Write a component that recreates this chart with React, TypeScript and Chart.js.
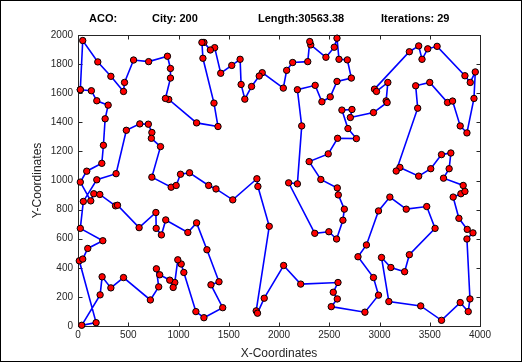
import React, { useEffect, useRef } from 'react';
import { Chart, registerables } from 'chart.js';

Chart.register(...registerables);

// Tour order of the 199 cities (x, y)
const cityX = [
  23, 133, 187, 300, 270, 253, 237, 87, 23, 127,
  157, 217, 373, 393, 608, 775, 778, 830, 873, 1093,
  1180, 1283, 1403, 1323, 1440, 1253, 1173, 1053, 1027, 993,
  963, 947, 913, 813, 780, 803, 720, 453, 327, 240,
  220, 37, 180, 13, 47, 97, 247, 23, 53, 187,
  379, 481, 615, 700, 735, 730, 821, 735, 927, 977,
  1020, 1110, 1300, 1373, 1540, 1780, 1790, 1903, 1773, 1786,
  1853, 2046, 2216, 2587, 2540, 2580, 2520, 2855, 2990, 2940,
  2786, 2870, 2990, 3103, 3266, 3470, 3553, 3297, 3250, 3113,
  3020, 3093, 3410, 3617, 3803, 3883, 3900, 3870, 3930, 3873,
  3790, 3733, 3810, 3850, 3833, 3637, 3693, 3710, 3617, 3510,
  3390, 3203, 3166, 3380, 3360, 3500, 3677, 3727, 3803, 3870,
  3940, 3953, 3903, 3850, 3573, 3480, 3423, 3390, 3297, 2950,
  2970, 3083, 3066, 3076, 2940, 2710, 2726, 2626, 2686, 2770,
  2583, 2490, 2300, 2416, 2580, 2590, 2650, 2636, 2573, 2496,
  2356, 2096, 2183, 2226, 2183, 2360, 2427, 2510, 2577, 2720,
  2680, 2597, 2577, 2550, 2467, 2316, 2306, 2286, 2136, 2076,
  2043, 1833, 1803, 1727, 1660, 1623, 1613, 1530, 1420, 1360,
  1317, 1253, 1233, 1243, 1353, 1393, 1180, 903, 870, 920,
  920, 890, 703, 553, 463, 453, 327, 197, 47,
];
const cityY = [
  1624, 1617, 1548, 1518, 1424, 1242, 1118, 1064, 989, 860,
  909, 904, 826, 830, 676, 780, 671, 626, 729, 643,
  709, 524, 304, 283, 126, 57, 99, 368, 426, 455,
  299, 265, 315, 352, 393, 269, 179, 333, 262, 338,
  214, 5, 23, 448, 460, 533, 586, 671, 856, 1005,
  1047, 1345, 1389, 1387, 1330, 1290, 1233, 1023, 954, 966,
  1043, 1053, 966, 942, 867, 1012, 959, 685, 104, 88,
  191, 416, 288, 299, 232, 186, 133, 95, 212, 333,
  476, 557, 791, 886, 803, 821, 671, 490, 373, 402,
  471, 168, 138, 39, 161, 99, 186, 598, 640, 664,
  740, 886, 909, 925, 966, 1016, 1081, 1189, 1178, 1081,
  1030, 1090, 1065, 1497, 1651, 1674, 1536, 1546, 1375, 1327,
  1564, 1746, 1674, 1720, 1922, 1905, 1833, 1925, 1885, 1628,
  1612, 1674, 1547, 1536, 1467, 1433, 1488, 1484, 1357, 1288,
  1290, 1183, 1130, 1007, 949, 901, 803, 727, 598, 648,
  637, 984, 977, 1375, 1624, 1654, 1541, 1575, 1681, 1704,
  1829, 1833, 1978, 1916, 1847, 1932, 1955, 1817, 1811, 1757,
  1635, 1741, 1718, 1646, 1559, 1660, 1833, 1791, 1737, 1913,
  1897, 1949, 1949, 1840, 1532, 1371, 1396, 1557, 1564, 1704,
  1770, 1854, 1817, 1828, 1674, 1612, 1716, 1815, 1962,
];

const xTickValues = [0, 500, 1000, 1500, 2000, 2500, 3000, 3500, 4000];
const yTickValues = [0, 200, 400, 600, 800, 1000, 1200, 1400, 1600, 1800, 2000];
const titleParts = ['ACO:', 'City: 200', 'Length:30563.38', 'Iterations: 29'];
const xLabel = 'X-Coordinates';
const yLabel = 'Y-Coordinates';

const FONT = '"Liberation Sans", Arial, Helvetica, sans-serif';

export default function App() {
  const ref = useRef<HTMLCanvasElement>(null);

  useEffect(() => {
    if (!ref.current) return;
    const pts = cityX.map((x, i) => ({ x, y: cityY[i] }));
    pts.push({ x: cityX[0], y: cityY[0] });

    const framePlugin = {
      id: 'frame',
      beforeDraw(chart: any) {
        const { ctx, width, height } = chart;
        ctx.save();
        ctx.fillStyle = '#ffffff';
        ctx.fillRect(0, 0, width, height);
        ctx.restore();
      },
      beforeDatasetsDraw(chart: any) {
        const { ctx, chartArea: a, scales } = chart;
        ctx.save();
        ctx.strokeStyle = '#262626';
        ctx.lineWidth = 1;
        const L = Math.round(a.left) + 0.5;
        const R = Math.round(a.right) + 0.5;
        const T = Math.round(a.top) + 0.5;
        const B = Math.round(a.bottom) + 0.5;
        ctx.strokeRect(L, T, R - L, B - T);
        const tl = 4;
        ctx.beginPath();
        xTickValues.forEach((v) => {
          const px = Math.round(scales.x.getPixelForValue(v)) + 0.5;
          ctx.moveTo(px, B); ctx.lineTo(px, B - tl);
          ctx.moveTo(px, T); ctx.lineTo(px, T + tl);
        });
        yTickValues.forEach((v) => {
          const py = Math.round(scales.y.getPixelForValue(v)) + 0.5;
          ctx.moveTo(L, py); ctx.lineTo(L + tl, py);
          ctx.moveTo(R, py); ctx.lineTo(R - tl, py);
        });
        ctx.stroke();
        ctx.restore();
      },
      afterDraw(chart: any) {
        const { ctx, width, height } = chart;
        ctx.save();
        ctx.fillStyle = '#000000';
        ctx.font = `bold 11px ${FONT}`;
        ctx.textBaseline = 'middle';
        ctx.textAlign = 'left';
        const xs = [89, 152, 258, 381];
        titleParts.forEach((t, i) => ctx.fillText(t, xs[i], 19));
        ctx.strokeStyle = '#000000';
        ctx.lineWidth = 1;
        ctx.strokeRect(0.5, 0.5, width - 1, height - 1);
        ctx.restore();
      },
    };

    const chart = new Chart(ref.current, {
      type: 'scatter',
      data: {
        datasets: [
          {
            data: pts,
            showLine: true,
            borderColor: '#0000ff',
            borderWidth: 1.6,
            tension: 0,
            pointRadius: 3.2,
            pointBackgroundColor: '#ff0000',
            pointBorderColor: '#000000',
            pointBorderWidth: 1,
            clip: false as any,
          },
        ],
      },
      options: {
        responsive: false,
        animation: false,
        layout: { padding: { top: 35, right: 42, left: 0, bottom: 0 } },
        plugins: {
          legend: { display: false },
          tooltip: { enabled: false },
          title: { display: false },
        },
        scales: {
          x: {
            type: 'linear',
            min: 0,
            max: 4000,
            afterBuildTicks: (s: any) => {
              s.ticks = xTickValues.map((v) => ({ value: v }));
            },
            afterFit: (s: any) => {
              s.height = 36;
            },
            grid: { display: false, drawTicks: false },
            border: { display: false },
            ticks: {
              autoSkip: false,
              maxRotation: 0,
              padding: 3,
              color: '#262626',
              font: { family: FONT, size: 10 },
              callback: (v: any) => String(v),
            },
            title: {
              display: true,
              text: xLabel,
              color: '#262626',
              font: { family: FONT, size: 12 },
              padding: { top: 0, bottom: 1 },
            },
          },
          y: {
            type: 'linear',
            min: 0,
            max: 2000,
            afterBuildTicks: (s: any) => {
              s.ticks = yTickValues.map((v) => ({ value: v }));
            },
            afterFit: (s: any) => {
              s.width = 78;
            },
            grid: { display: false, drawTicks: false },
            border: { display: false },
            ticks: {
              autoSkip: false,
              padding: 5,
              color: '#262626',
              font: { family: FONT, size: 10 },
              callback: (v: any) => String(v),
            },
            title: {
              display: true,
              text: yLabel,
              color: '#262626',
              font: { family: FONT, size: 12 },
              padding: { top: 30, bottom: 0 },
            },
          },
        },
      },
      plugins: [framePlugin],
    });
    return () => chart.destroy();
  }, []);

  return (
    <div style={{ position: 'absolute', left: 0, top: 0, width: 522, height: 362, background: '#fff' }}>
      <canvas ref={ref} width={522} height={362} style={{ display: 'block', width: 522, height: 362 }} />
    </div>
  );
}
